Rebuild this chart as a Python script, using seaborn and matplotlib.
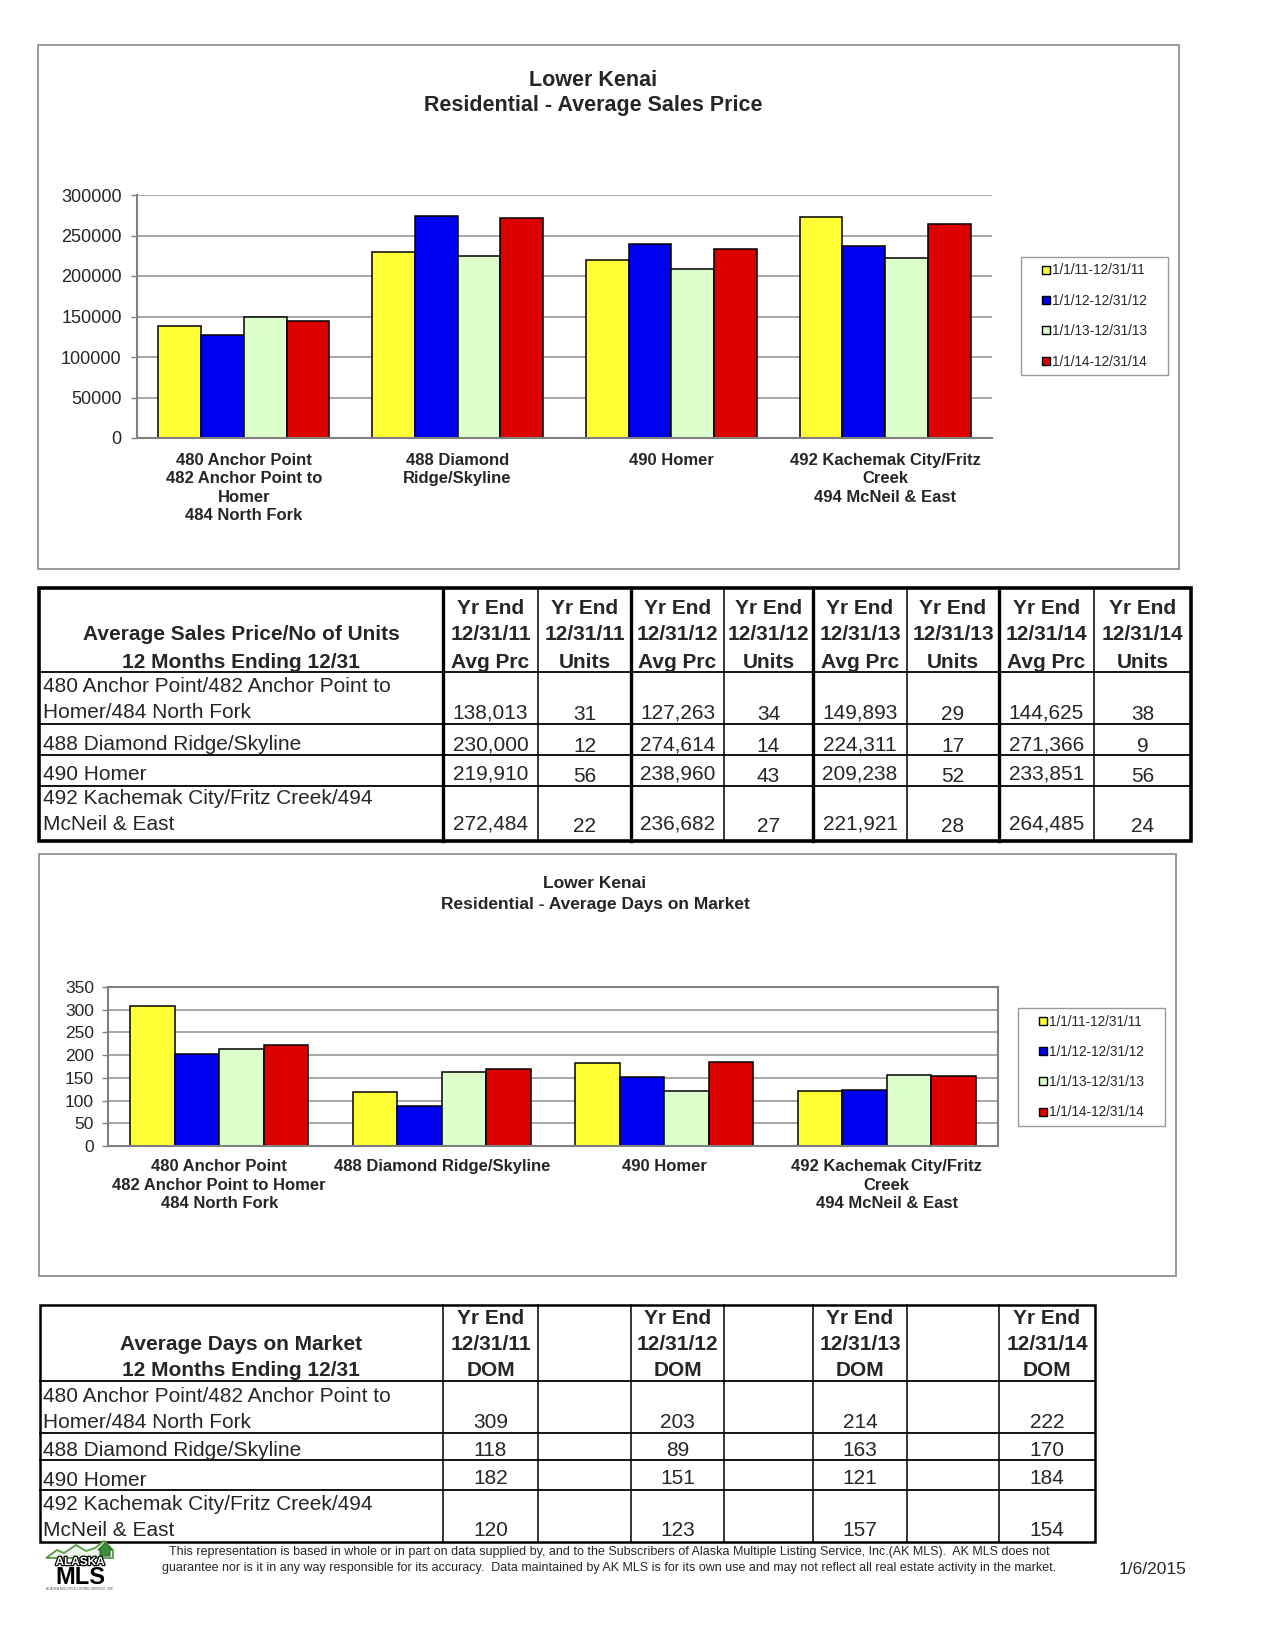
import numpy as np
import pandas as pd
import matplotlib
matplotlib.use("Agg")
import matplotlib.pyplot as plt
import matplotlib.patheffects as pe
from matplotlib.patches import Rectangle, Patch, Polygon
from matplotlib import font_manager
import seaborn as sns

# ---------------- data ----------------
areas_short = ["480", "488", "490", "492"]
periods = ["1/1/11-12/31/11", "1/1/12-12/31/12", "1/1/13-12/31/13", "1/1/14-12/31/14"]
colors = ["#FFFF33", "#0000F0", "#DDFFCC", "#DD0000"]

price_11 = [138013, 230000, 219910, 272484]
price_12 = [127263, 274614, 238960, 236682]
price_13 = [149893, 224311, 209238, 221921]
price_14 = [144625, 271366, 233851, 264485]

units_11 = [31, 12, 56, 22]
units_12 = [34, 14, 43, 27]
units_13 = [29, 17, 52, 28]
units_14 = [38, 9, 56, 24]

dom_11 = [309, 118, 182, 120]
dom_12 = [203, 89, 151, 123]
dom_13 = [214, 163, 121, 157]
dom_14 = [222, 170, 184, 154]

price_xlabels = ["480 Anchor Point\n482 Anchor Point to\nHomer\n484 North Fork",
                 "488 Diamond\nRidge/Skyline",
                 "490 Homer",
                 "492 Kachemak City/Fritz\nCreek\n494 McNeil & East"]
dom_xlabels = ["480 Anchor Point\n482 Anchor Point to Homer\n484 North Fork",
               "488 Diamond Ridge/Skyline",
               "490 Homer",
               "492 Kachemak City/Fritz\nCreek\n494 McNeil & East"]
row_labels = ["480 Anchor Point/482 Anchor Point to\nHomer/484 North Fork",
              "488 Diamond Ridge/Skyline",
              "490 Homer",
              "492 Kachemak City/Fritz Creek/494\nMcNeil & East"]
year_ends = ["12/31/11", "12/31/12", "12/31/13", "12/31/14"]

price_yticks = [0, 50000, 100000, 150000, 200000, 250000, 300000]
dom_yticks = [0, 50, 100, 150, 200, 250, 300, 350]

footer_1 = ("This representation is based in whole or in part on data supplied by, and to the Subscribers of "
            "Alaska Multiple Listing Service, Inc.(AK MLS).  AK MLS does not")
footer_2 = ("guarantee nor is it in any way responsible for its accuracy.  Data maintained by AK MLS is for its "
            "own use and may not reflect all real estate activity in the market.")
report_date = "1/6/2015"

# ---------------- setup ----------------
sns.set_theme(style="white")
plt.rcParams["font.family"] = ["Liberation Sans", "DejaVu Sans"]
names = {f.name for f in font_manager.fontManager.ttflist}
narrow_font = "Liberation Sans Narrow" if "Liberation Sans Narrow" in names else "Liberation Sans"

W, H = 1275, 1650
fig = plt.figure(figsize=(W / 100, H / 100), dpi=100)
fig.patch.set_facecolor("white")

ov = fig.add_axes([0, 0, 1, 1])
ov.set_xlim(0, W)
ov.set_ylim(H, 0)
ov.axis("off")
ov.set_zorder(0)


def axpos(x0, y0, x1, y1):
    return [x0 / W, 1 - y1 / H, (x1 - x0) / W, (y1 - y0) / H]


def long_df(series):
    rows = []
    for p, vals in zip(periods, series):
        for a, v in zip(areas_short, vals):
            rows.append({"area": a, "period": p, "value": v})
    return pd.DataFrame(rows)


def bar_chart(rect, series, yticks, xlabels, ytick_size, boxed, xlab_pad, ylab_pad):
    ax = fig.add_axes(rect)
    ax.set_zorder(1)
    df = long_df(series)
    sns.barplot(data=df, x="area", y="value", hue="period", order=areas_short,
                hue_order=periods, palette=colors, saturation=1, edgecolor="black",
                linewidth=1.1, width=0.8, gap=0, errorbar=None, legend=False, ax=ax)
    ax.set_xlim(-0.5, 3.5)
    ax.set_ylim(yticks[0], yticks[-1])
    ax.set_yticks(yticks)
    ax.set_yticklabels([str(t) for t in yticks], fontsize=ytick_size)
    ax.set_xticks(range(4))
    ax.set_xticklabels(xlabels, fontsize=12, fontweight="bold", linespacing=1.3)
    ax.set_xticks([-0.5, 0.5, 1.5, 2.5, 3.5], minor=True)
    ax.tick_params(axis="x", which="major", length=0, pad=xlab_pad)
    ax.tick_params(axis="x", which="minor", length=6, color="#808080", width=1, direction="out")
    ax.tick_params(axis="y", length=4, color="#808080", width=1, direction="out", pad=ylab_pad, left=True)
    ax.set_xlabel("")
    ax.set_ylabel("")
    ax.yaxis.grid(True, color="#A0A0A0", lw=1.3)
    ax.set_axisbelow(True)
    for side, sp in ax.spines.items():
        sp.set_color("#808080")
        sp.set_linewidth(1.5)
        if not boxed and side in ("top", "right"):
            sp.set_visible(False)
    return ax


def legend_box(x0, y0, x1, y1):
    ov.add_patch(Rectangle((x0, y0), x1 - x0, y1 - y0, fill=False, ec="#999999", lw=1.0))
    handles = [Patch(facecolor=c, edgecolor="black", lw=1.0) for c in colors]
    fig.legend(handles, periods, loc="center",
               bbox_to_anchor=((x0 + x1) / 2 / W, 1 - (y0 + y1) / 2 / H),
               frameon=False, fontsize=9.8, handlelength=0.55, handleheight=0.55,
               handletextpad=0.15, labelspacing=1.2, borderpad=0.2)


# ---------------- chart 1 ----------------
ov.add_patch(Rectangle((38, 45), 1179 - 38, 569 - 45, fill=False, ec="#888888", lw=1.2))
ov.text(593, 80, "Lower Kenai", ha="center", va="center", fontsize=15.5, fontweight="bold")
ov.text(593, 105, "Residential - Average Sales Price", ha="center", va="center", fontsize=15.5, fontweight="bold")
bar_chart(axpos(137, 195, 992, 438), [price_11, price_12, price_13, price_14],
          price_yticks, price_xlabels, 13, False, 10.5, 7)
legend_box(1021, 257, 1168, 375)

# ---------------- chart 2 ----------------
ov.add_patch(Rectangle((39, 854), 1176 - 39, 1276 - 854, fill=False, ec="#888888", lw=1.2))
ov.text(595, 884, "Lower Kenai", ha="center", va="center", fontsize=12.5, fontweight="bold")
ov.text(595, 904, "Residential - Average Days on Market", ha="center", va="center", fontsize=12.5, fontweight="bold")
bar_chart(axpos(108, 987, 998, 1146), [dom_11, dom_12, dom_13, dom_14],
          dom_yticks, dom_xlabels, 12.5, True, 9.5, 6)
legend_box(1018, 1008, 1165, 1126)


# ---------------- tables ----------------
def hline(y, x0, x1, lw):
    ov.plot([x0, x1], [y, y], color="black", lw=lw, solid_capstyle="projecting")


def vline(x, y0, y1, lw):
    ov.plot([x, x], [y0, y1], color="black", lw=lw, solid_capstyle="projecting")


TS = 15
D = 2  # vertical text offset
# Table 1
c1 = [39, 443, 538, 631, 724, 813, 907, 999, 1094, 1191]
r1 = [588, 672, 724, 755, 786, 841]
for y in r1[1:-1]:
    hline(y, c1[0], c1[-1], 1.3)
for i, x in enumerate(c1[1:-1], start=1):
    vline(x, r1[0], r1[-1], 2.4 if i % 2 == 1 else 1.1)
ov.add_patch(Rectangle((c1[0], r1[0]), c1[-1] - c1[0], r1[-1] - r1[0], fill=False, ec="black", lw=2.6))

ov.text(241, 633 + D, "Average Sales Price/No of Units", ha="center", va="center", fontsize=TS, fontweight="bold")
ov.text(241, 660 + D, "12 Months Ending 12/31", ha="center", va="center", fontsize=TS, fontweight="bold")
price_cols = [price_11, price_12, price_13, price_14]
unit_cols = [units_11, units_12, units_13, units_14]
for k in range(4):
    for j, kind in enumerate(["Avg Prc", "Units"]):
        ci = 2 * k + j
        xc = (c1[ci + 1] + c1[ci + 2]) / 2
        ov.text(xc, 607 + D, "Yr End", ha="center", va="center", fontsize=TS, fontweight="bold")
        ov.text(xc, 633 + D, year_ends[k], ha="center", va="center", fontsize=TS, fontweight="bold")
        ov.text(xc, 660 + D, kind, ha="center", va="center", fontsize=TS, fontweight="bold")

t1_label_y = [(685, 711), (743,), (772,), (796, 822)]
t1_val_y = [711, 743, 772, 822]
for r in range(4):
    for line, yy in zip(row_labels[r].split("\n"), t1_label_y[r]):
        ov.text(43, yy + D, line, ha="left", va="center", fontsize=TS)
    for k in range(4):
        xp = (c1[2 * k + 1] + c1[2 * k + 2]) / 2
        xu = (c1[2 * k + 2] + c1[2 * k + 3]) / 2
        ov.text(xp, t1_val_y[r] + D, f"{price_cols[k][r]:,}", ha="center", va="center", fontsize=TS)
        ov.text(xu, t1_val_y[r] + D + 2, str(unit_cols[k][r]), ha="center", va="center", fontsize=TS)

# Table 2
c2 = [40, 443, 538, 631, 724, 813, 907, 999, 1095]
r2 = [1305, 1381, 1433, 1460, 1490, 1542]
for y in r2[1:-1]:
    hline(y, c2[0], c2[-1], 1.3)
for x in c2[1:-1]:
    vline(x, r2[0], r2[-1], 1.1)
ov.add_patch(Rectangle((c2[0], r2[0]), c2[-1] - c2[0], r2[-1] - r2[0], fill=False, ec="black", lw=1.8))
ov.text(241, 1342 + D, "Average Days on Market", ha="center", va="center", fontsize=TS, fontweight="bold")
ov.text(241, 1369 + D, "12 Months Ending 12/31", ha="center", va="center", fontsize=TS, fontweight="bold")
dom_cols = [dom_11, dom_12, dom_13, dom_14]
t2_label_y = [(1395, 1421), (1448,), (1478,), (1502, 1529)]
t2_val_y = [1421, 1448, 1477, 1529]
for k in range(4):
    xc = (c2[2 * k + 1] + c2[2 * k + 2]) / 2
    ov.text(xc, 1316 + D, "Yr End", ha="center", va="center", fontsize=TS, fontweight="bold")
    ov.text(xc, 1342 + D, year_ends[k], ha="center", va="center", fontsize=TS, fontweight="bold")
    ov.text(xc, 1369 + D, "DOM", ha="center", va="center", fontsize=TS, fontweight="bold")
    for r in range(4):
        ov.text(xc, t2_val_y[r] + D, str(dom_cols[k][r]), ha="center", va="center", fontsize=TS)
for r in range(4):
    for line, yy in zip(row_labels[r].split("\n"), t2_label_y[r]):
        ov.text(43, yy + D, line, ha="left", va="center", fontsize=TS)

# ---------------- footer ----------------
renderer = fig.canvas.get_renderer()
for txt, yy, target in [(footer_1, 1552, 882), (footer_2, 1568, 892)]:
    t = ov.text(609, yy, txt, ha="center", va="center", fontsize=10, family=narrow_font)
    w = t.get_window_extent(renderer).width
    t.set_fontsize(10 * target / w)
ov.text(1153, 1570, report_date, ha="center", va="center", fontsize=12.5, family=narrow_font)

# logo
ov.add_patch(Polygon([[46, 1558], [57, 1550], [64, 1553], [76, 1545], [86, 1551], [95, 1548],
                      [104, 1541], [113, 1550], [113, 1558]], closed=True, fc="#eef5ea", ec="#5a9a4a", lw=1.3))
ov.add_patch(Polygon([[98, 1550], [105, 1543], [112, 1550], [110, 1550], [110, 1556], [100, 1556], [100, 1550]],
                     closed=True, fc="#3c8d3c", ec="#2e6e2e", lw=0.8))
ov.text(80, 1562, "ALASKA", ha="center", va="center", fontsize=8.5, fontweight="bold", color="white",
        path_effects=[pe.withStroke(linewidth=1.8, foreground="black")])
ov.text(80, 1577, "MLS", ha="center", va="center", fontsize=17, fontweight="heavy", color="black")
ov.text(80, 1589, "ALASKA MULTIPLE LISTING SERVICE, INC", ha="center", va="center", fontsize=2.4, color="#555555")

fig.savefig("out.png", dpi=100, facecolor="white")
